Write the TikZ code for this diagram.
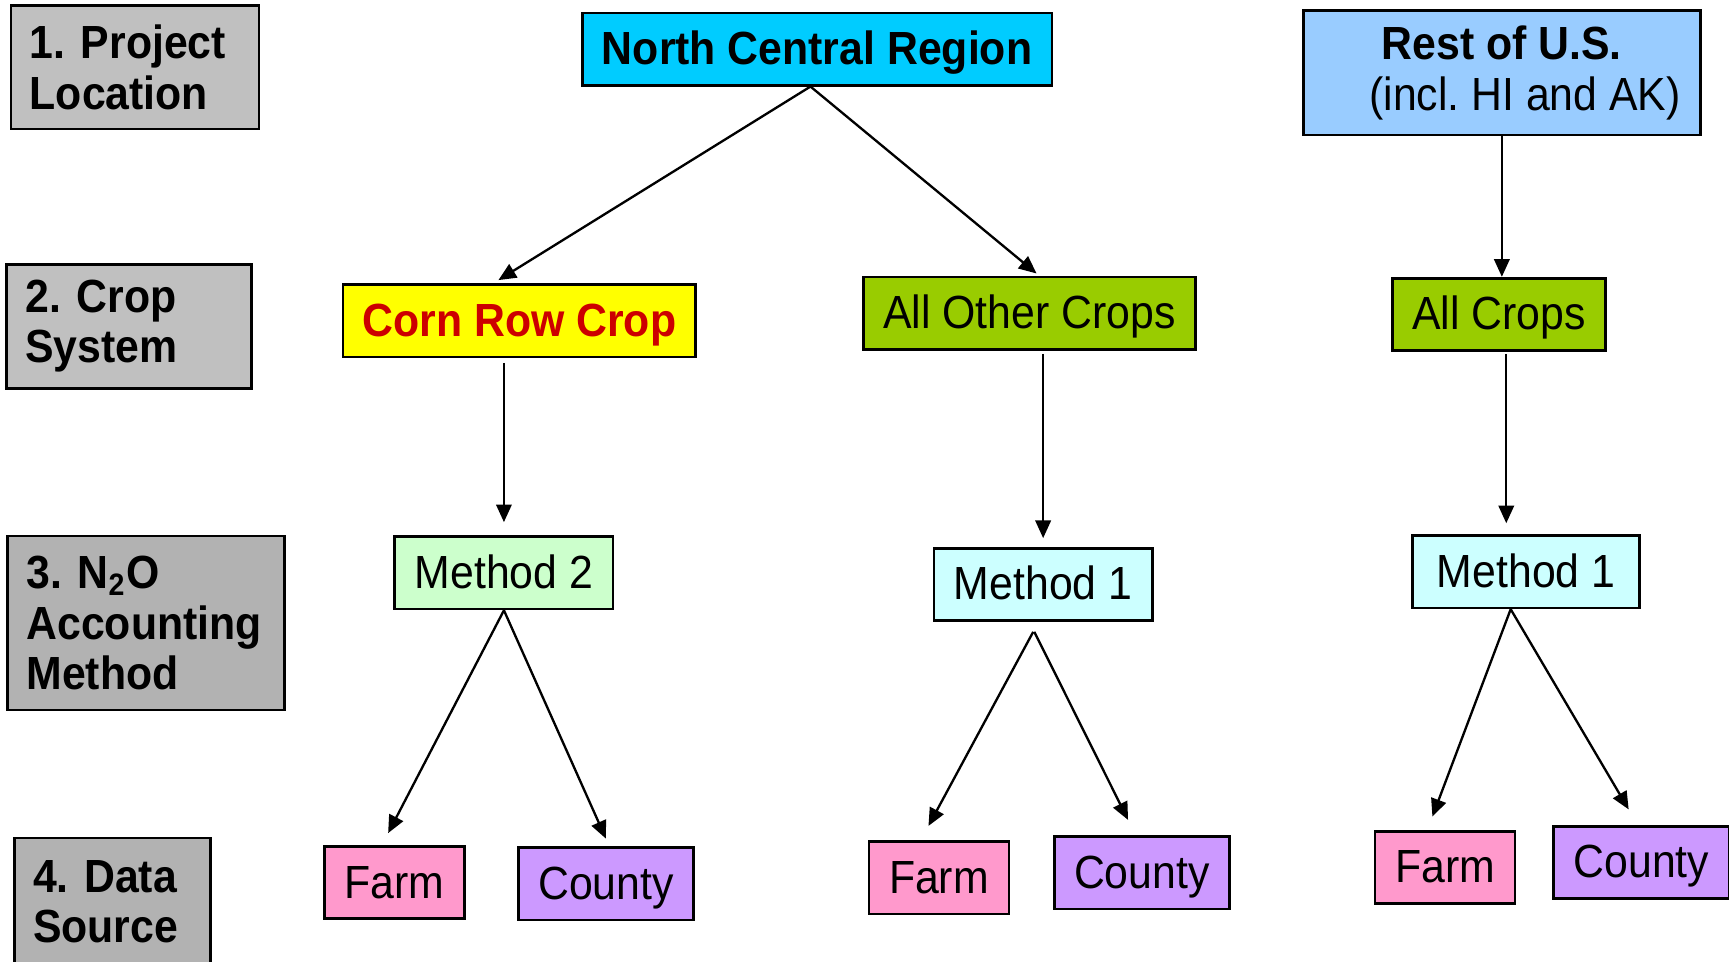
\documentclass[tikz,border=0pt]{standalone}
\usepackage{fontspec}
\setmainfont{Liberation Sans}[FakeStretch=0.92]
\usepackage{tikz}
\usetikzlibrary{arrows.meta,positioning,calc}
\definecolor{greyLight}{HTML}{C0C0C0}
\definecolor{greyDark}{HTML}{B2B2B2}
\definecolor{cRegion}{HTML}{00CCFF}
\definecolor{cRest}{HTML}{99CCFF}
\definecolor{cCorn}{HTML}{FFFF00}
\definecolor{cCornText}{HTML}{CC0000}
\definecolor{cCrops}{HTML}{99CC00}
\definecolor{cMethodTwo}{HTML}{CCFFCC}
\definecolor{cMethodOne}{HTML}{CCFFFF}
\definecolor{cFarm}{HTML}{FF99CC}
\definecolor{cCounty}{HTML}{CC99FF}
\frenchspacing

\begin{document}
\begin{tikzpicture}[
  font=\fontsize{12}{13}\selectfont,
  frame/.style={draw, line width=0.7pt, inner sep=0pt, minimum height=0.655cm},
  box/.style={frame, text height=0.31cm, text depth=0.03cm},
  level/.style={draw, line width=0.7pt, align=left, inner xsep=0.17cm, inner ysep=0pt,
    font=\fontsize{12}{13}\selectfont\bfseries},
  link/.style={line width=0.6pt, -{Triangle[length=0.16cm,width=0.14cm]}}
]
  \useasboundingbox (0,0) rectangle (15.68,-8.72);

  \node[level, fill=greyLight, text width=1.91cm, minimum height=1.12cm] (lvlA) at (1.225,-0.61) {1. Project\\Location};
  \node[level, fill=greyLight, text width=1.88cm, minimum height=1.12cm] (lvlB) at (1.17,-2.96) {2. Crop\\System};
  \node[level, fill=greyDark, text width=2.17cm, minimum height=1.58cm] (lvlC) at (1.325,-5.65) {3. N\textsubscript{2}O\\Accounting\\Method};
  \node[level, fill=greyDark, text width=1.44cm, minimum height=1.16cm] (lvlD) at (1.02,-8.18) {4. Data\\Source};

  \node[box, fill=cRegion, minimum width=4.26cm, font=\fontsize{12}{13}\selectfont\bfseries] (ncr) at (7.41,-0.445) {North Central Region};
  \node[frame, fill=cRest, minimum width=3.6cm, minimum height=1.13cm, align=center] (rest) at (13.62,-0.66) {\textbf{Rest of U.S.}\\\hspace*{0.42cm}(incl. HI and AK)};

  \node[box, fill=cCorn, minimum width=3.2cm, text=cCornText, font=\fontsize{12}{13}\selectfont\bfseries] (corn) at (4.71,-2.91) {Corn Row Crop};
  \node[box, fill=cCrops, minimum width=3.01cm] (other) at (9.335,-2.84) {All Other Crops};
  \node[box, fill=cCrops, minimum width=1.93cm] (allc) at (13.595,-2.85) {All Crops};

  \node[box, fill=cMethodTwo, minimum width=1.98cm] (m2) at (4.57,-5.195) {Method 2};
  \node[box, fill=cMethodOne, minimum width=1.98cm] (m1a) at (9.46,-5.30) {Method 1};
  \node[box, fill=cMethodOne, minimum width=2.06cm] (m1b) at (13.84,-5.185) {Method 1};

  \node[box, fill=cFarm, minimum width=1.27cm] (farmA) at (3.575,-8.005) {Farm};
  \node[box, fill=cCounty, minimum width=1.59cm] (countyA) at (5.495,-8.015) {County};
  \node[box, fill=cFarm, minimum width=1.27cm] (farmB) at (8.515,-7.96) {Farm};
  \node[box, fill=cCounty, minimum width=1.59cm] (countyB) at (10.355,-7.915) {County};
  \node[box, fill=cFarm, minimum width=1.27cm] (farmC) at (13.105,-7.865) {Farm};
  \node[box, fill=cCounty, minimum width=1.59cm] (countyC) at (14.885,-7.82) {County};

  \draw[link] ([xshift=-0.06cm]ncr.south) -- ([xshift=-0.19cm,yshift=0.03cm]corn.north);
  \draw[link] ([xshift=-0.06cm]ncr.south) -- ([xshift=0.065cm,yshift=0.02cm]other.north);
  \draw[link] (rest.south) -- (rest.south |- allc.north);

  \draw[link, shorten <=0.04cm, shorten >=0.12cm] (m2.north |- corn.south) -- (m2.north);
  \draw[link, shorten <=0.03cm, shorten >=0.08cm] (m1a.north |- other.south) -- (m1a.north);
  \draw[link, shorten <=0.02cm, shorten >=0.1cm] ([xshift=0.065cm]allc.south) -- ([xshift=0.065cm]allc.south |- m1b.north);

  \draw[link] (m2.south) -- ([shift={(-0.055,0.11)}]farmA.north);
  \draw[link] (m2.south) -- ([yshift=0.07cm]countyA.north);
  \draw[link] ([shift={(-0.09,-0.09)}]m1a.south) -- ([shift={(-0.095,0.13)}]farmB.north);
  \draw[link] ([shift={(-0.08,-0.09)}]m1a.south) -- ([shift={(-0.125,0.14)}]countyB.north);
  \draw[link] ([xshift=-0.14cm]m1b.south) -- ([shift={(-0.115,0.12)}]farmC.north);
  \draw[link] ([xshift=-0.14cm]m1b.south) -- ([shift={(-0.115,0.14)}]countyC.north);
\end{tikzpicture}
\end{document}
